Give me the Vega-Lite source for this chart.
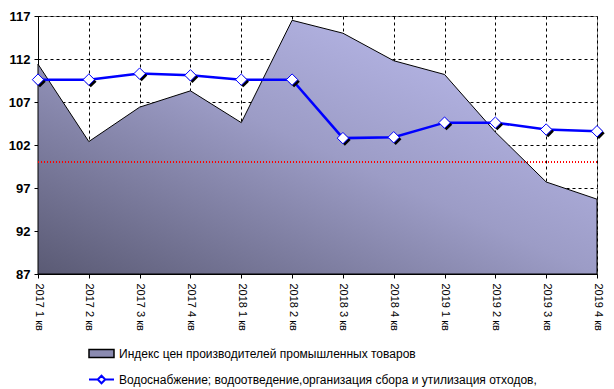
{
  "$schema": "https://vega.github.io/schema/vega-lite/v6.json",
  "width": 559,
  "height": 258,
  "autosize": {"type": "none"},
  "padding": {"left": 38, "top": 16, "right": 17, "bottom": 115},
  "background": "white",
  "config": {
    "view": {"stroke": "#888888", "strokeWidth": 1},
    "font": "Liberation Sans",
    "axis": {
      "domainColor": "black",
      "tickColor": "black",
      "tickSize": 4,
      "grid": true,
      "gridColor": "black",
      "gridDash": [3, 3],
      "gridWidth": 1,
      "gridOpacity": 1,
      "labelColor": "black",
      "title": null
    }
  },
  "data": {
    "values": [
      {"q": "2017 1 кв", "ppi": 111.4, "water": 109.6},
      {"q": "2017 2 кв", "ppi": 102.4, "water": 109.6},
      {"q": "2017 3 кв", "ppi": 106.4, "water": 110.3},
      {"q": "2017 4 кв", "ppi": 108.3, "water": 110.1},
      {"q": "2018 1 кв", "ppi": 104.6, "water": 109.6},
      {"q": "2018 2 кв", "ppi": 116.5, "water": 109.6},
      {"q": "2018 3 кв", "ppi": 115.0, "water": 102.8},
      {"q": "2018 4 кв", "ppi": 111.8, "water": 102.9},
      {"q": "2019 1 кв", "ppi": 110.2, "water": 104.6},
      {"q": "2019 2 кв", "ppi": 103.5, "water": 104.6},
      {"q": "2019 3 кв", "ppi": 97.7, "water": 103.8},
      {"q": "2019 4 кв", "ppi": 95.7, "water": 103.6}
    ]
  },
  "layer": [
    {
      "mark": {
        "type": "area",
        "stroke": "black",
        "strokeWidth": 1,
        "opacity": 1,
        "fill": {
          "gradient": "linear",
          "x1": 0, "y1": 1, "x2": 1, "y2": 0,
          "stops": [
            {"offset": 0, "color": "#5a5a74"},
            {"offset": 0.5, "color": "#9c9cc6"},
            {"offset": 1, "color": "#c2c2f6"}
          ]
        }
      },
      "encoding": {
        "x": {
          "field": "q",
          "type": "ordinal",
          "sort": null,
          "scale": {"type": "point", "padding": 0},
          "axis": {
            "labelAngle": 90,
            "labelAlign": "left",
            "labelBaseline": "middle",
            "labelFontSize": 11,
            "labelPadding": 5,
            "labelFont": "Liberation Sans"
          }
        },
        "y": {
          "field": "ppi",
          "type": "quantitative",
          "scale": {"domain": [87, 117], "nice": false, "zero": false},
          "axis": {
            "values": [87, 92, 97, 102, 107, 112, 117],
            "labelFontSize": 13,
            "labelFontWeight": "bold",
            "labelPadding": 4,
            "labelFont": "Liberation Sans"
          }
        },
        "y2": {"datum": 87}
      }
    },
    {
      "mark": {"type": "point", "filled": true, "size": 0},
      "encoding": {
        "x": {"field": "q", "type": "ordinal", "sort": null},
        "y": {"field": "ppi", "type": "quantitative"},
        "fill": {
          "datum": "Индекс цен производителей промышленных товаров",
          "type": "nominal",
          "scale": {"range": ["#8a8ab0"]},
          "legend": {
            "orient": "none",
            "legendX": 50,
            "legendY": 324,
            "title": null,
            "symbolType": "M-1,-0.32H1V0.32H-1Z",
            "symbolSize": 625,
            "symbolOpacity": 1,
            "symbolStrokeColor": "black",
            "symbolStrokeWidth": 1.5,
            "labelFontSize": 12,
            "labelColor": "black",
            "labelOffset": 4,
            "labelLimit": 600
          }
        }
      }
    },
    {
      "mark": {"type": "rule", "color": "#ff0000", "strokeDash": [1, 2], "strokeWidth": 1, "opacity": 0.85},
      "encoding": {"y": {"datum": 100, "type": "quantitative"}}
    },
    {
      "mark": {"type": "line", "strokeWidth": 2.5},
      "encoding": {
        "x": {"field": "q", "type": "ordinal", "sort": null},
        "y": {"field": "water", "type": "quantitative"},
        "stroke": {
          "datum": "Водоснабжение; водоотведение,организация сбора и утилизация отходов,",
          "type": "nominal",
          "scale": {"range": ["#0000ff"]},
          "legend": {
            "orient": "none",
            "legendX": 50,
            "legendY": 350,
            "title": null,
            "symbolType": "M-1,0H-0.3M0.3,0H1M-0.3,0L0,-0.3L0.3,0L0,0.3Z",
            "symbolSize": 625,
            "symbolFillColor": "white",
            "symbolStrokeWidth": 2,
            "labelFontSize": 12,
            "labelColor": "black",
            "labelOffset": 4,
            "labelLimit": 600
          }
        }
      }
    },
    {
      "mark": {"type": "point", "shape": "diamond", "filled": true, "color": "black", "size": 130, "xOffset": 2, "yOffset": 2, "opacity": 1},
      "encoding": {
        "x": {"field": "q", "type": "ordinal", "sort": null},
        "y": {"field": "water", "type": "quantitative"}
      }
    },
    {
      "mark": {"type": "point", "shape": "diamond", "filled": true, "fill": "white", "stroke": "#0000ff", "strokeWidth": 1, "size": 130, "opacity": 1},
      "encoding": {
        "x": {"field": "q", "type": "ordinal", "sort": null},
        "y": {"field": "water", "type": "quantitative"}
      }
    }
  ]
}
